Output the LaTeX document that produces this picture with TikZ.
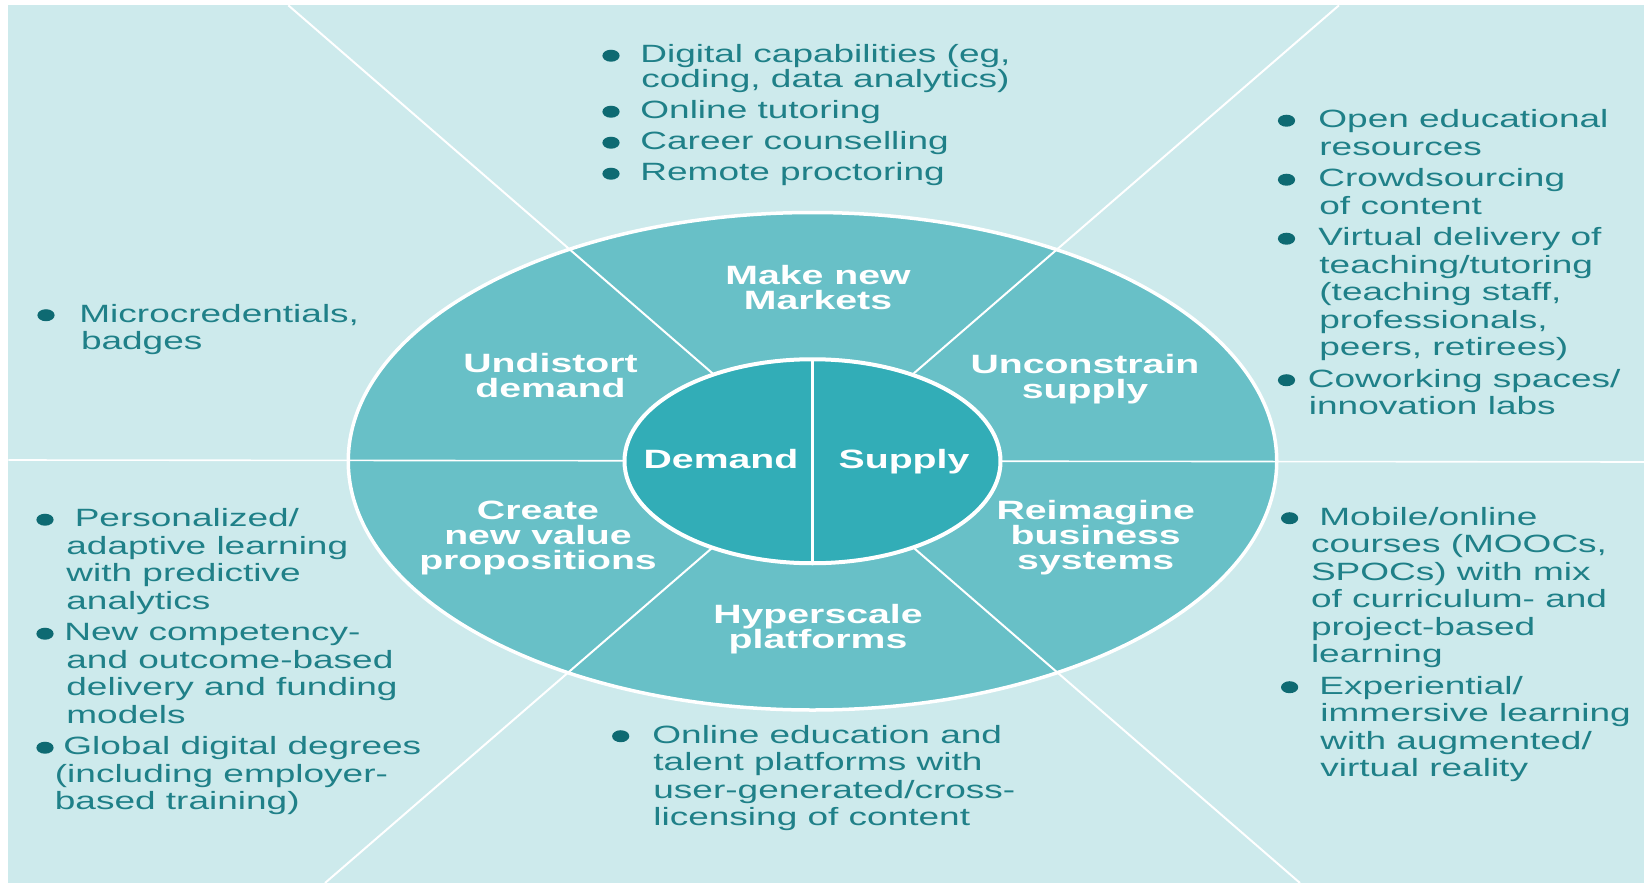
\documentclass[tikz,border=0pt]{standalone}
\usepackage{fontspec}
\setmainfont{Liberation Sans}[FakeStretch=1.48]
\definecolor{bgc}{HTML}{CDEAEC}
\definecolor{ringc}{HTML}{68C0C7}
\definecolor{corec}{HTML}{32ADB7}
\definecolor{txtc}{HTML}{1F8088}
\definecolor{bulc}{HTML}{0E6A72}
\newcommand\bul[1]{\makebox[#1][l]{\hspace*{-3pt}\tikz[x=1pt,y=1pt,baseline=-3.4pt]\fill[bulc] (0,0) ellipse [x radius=4.3pt, y radius=3pt];}}
\tikzset{
  lst/.style={anchor=north west, inner sep=0pt, align=left, text=txtc,
    font=\fontsize{12.5}{13.75}\selectfont},
  lbl/.style={inner sep=0pt, align=center, text=white,
    font=\fontsize{13.25}{12.5}\selectfont\bfseries},
  sep/.style={draw=white, line width=1pt}
}
\begin{document}
\begin{tikzpicture}[x=0.5pt,y=-0.5pt]
  \def\cx{812.5}
  \def\cy{461.25}
  \def\orx{464.25}
  \def\ory{248.75}
  \def\irx{188}
  \def\iry{102}
  \useasboundingbox (0,0) rectangle (1644,883);
  \coordinate (c) at (\cx,\cy);
  \coordinate (tl) at (288.3,5.3);
  \coordinate (tr) at (1339,5.3);
  \coordinate (bl) at (325,883);
  \coordinate (br) at (1300,883);
  \coordinate (lm) at (8.4,460);
  \coordinate (rm) at (1644,462);
  \coordinate (vt) at (\cx,\cy-\iry);
  \coordinate (vb) at (\cx,\cy+\iry);
  \fill[bgc] (8.4,5.3) rectangle (1644,883);
  \fill[ringc] (c) ellipse [x radius=\orx, y radius=\ory];
  \draw[sep] (tl) -- (br);
  \draw[sep] (tr) -- (bl);
  \draw[white, line width=0.8pt] (lm) -- (rm);
  \draw[white, line width=1.75pt] (c) ellipse [x radius=\orx, y radius=\ory];
  \filldraw[fill=corec, draw=white, line width=2pt] (c) ellipse [x radius=\irx, y radius=\iry];
  \draw[white, line width=1.4pt] (vt) -- (vb);

  \node[lbl] (mkt) at (818,287.3) {Make new\\Markets};
  \node[lbl] (undist) at (550.5,376) {Undistort\\demand};
  \node[lbl] (uncons) at (1085,378.7) {Unconstrain\\supply};
  \node[lbl] (create) at (538,538) {Create\\new value\\propositions};
  \node[lbl] (reimag) at (1095.7,538) {Reimagine\\business\\systems};
  \node[lbl] (hyper) at (818,628.7) {Hyperscale\\platforms};
  \node[lbl] (dem) at (721,459.5) {Demand};
  \node[lbl] (sup) at (904,462) {Supply};

  \node[lst, font=\fontsize{12.5}{12.5}\selectfont] (digi) at (608,44) {\bul{16pt}Digital capabilities (eg,\\\hspace*{16.5pt}coding, data analytics)\\[3pt]
    \bul{16pt}Online tutoring\\[3pt]\bul{16pt}Career counselling\\[3pt]\bul{16pt}Remote proctoring};
  \node[lst] (micro) at (43,303.5) {\bul{18pt}Microcredentials,\\\hspace*{18.8pt}badges};
  \node[lst] (pers) at (42,508) {\bul{16.2pt}Personalized/\\\hspace*{12pt}adaptive learning\\\hspace*{12pt}with predictive\\\hspace*{12pt}analytics\\[2pt]
    \bul{11pt}New competency-\\\hspace*{12pt}and outcome-based\\\hspace*{12pt}delivery and funding\\\hspace*{12pt}models\\[2pt]
    \bul{10.5pt}Global digital degrees\\\hspace*{6.25pt}(including employer-\\\hspace*{6.25pt}based training)};
  \node[lst] (oer) at (1283.5,109) {\bul{17.25pt}Open educational\\\hspace*{17.75pt}resources\\[2pt]
    \bul{17.25pt}Crowdsourcing\\\hspace*{17.75pt}of content\\[2pt]
    \bul{17.25pt}Virtual delivery of\\\hspace*{17.75pt}teaching/tutoring\\\hspace*{17.75pt}(teaching staff,\\\hspace*{17.75pt}professionals,\\\hspace*{17.75pt}peers, retirees)\\[2pt]
    \bul{12pt}Coworking spaces/\\\hspace*{12.5pt}innovation labs};
  \node[lst] (mooc) at (1286.6,506.5) {\bul{16.2pt}Mobile/online\\\hspace*{12pt}courses (MOOCs,\\\hspace*{12pt}SPOCs) with mix\\\hspace*{12pt}of curriculum- and\\\hspace*{12pt}project-based\\\hspace*{12pt}learning\\[2pt]
    \bul{16.2pt}Experiential/\\\hspace*{16.7pt}immersive learning\\\hspace*{16.7pt}with augmented/\\\hspace*{16.7pt}virtual reality};
  \node[lst] (online) at (617.7,724.5) {\bul{17.15pt}Online education and\\\hspace*{17.65pt}talent platforms with\\\hspace*{17.65pt}user-generated/cross-\\\hspace*{17.65pt}licensing of content};
\end{tikzpicture}
\end{document}
